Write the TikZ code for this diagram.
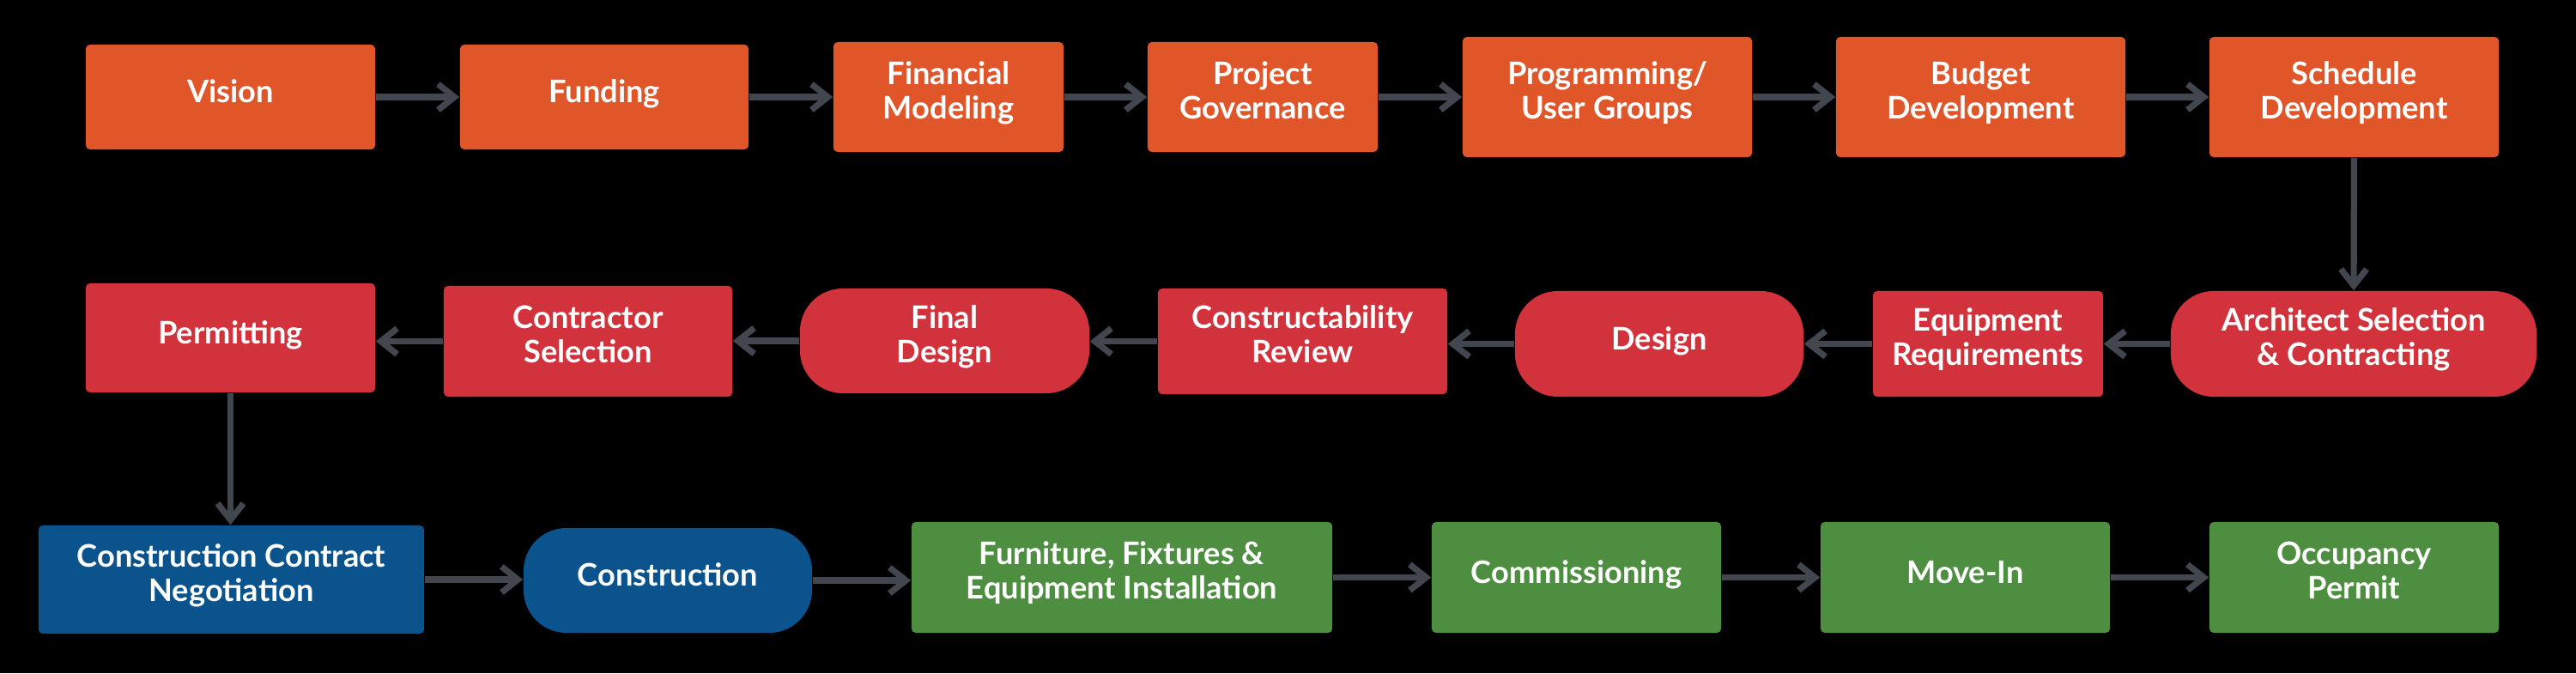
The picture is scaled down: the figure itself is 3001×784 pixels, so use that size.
\documentclass[tikz,border=0pt]{standalone}
\usepackage{fontspec}
\setmainfont{Lato}
\usetikzlibrary{arrows.meta}
\definecolor{cOrange}{HTML}{E05629}
\definecolor{cRed}{HTML}{D2323C}
\definecolor{cBlue}{HTML}{0A538C}
\definecolor{cGreen}{HTML}{4E8E41}
\definecolor{cArrow}{HTML}{42474F}
\tikzset{
  box/.style={rectangle, rounded corners=0.05cm, inner sep=0pt, align=center,
    text=white, font=\fontsize{10.3}{11.4}\selectfont\bfseries,
    execute at begin node={\rule{0pt}{8.5pt}},
    execute at end node={\rule[-4.6pt]{0pt}{4.6pt}}},
  pill/.style={box, rounded corners=0.5cm},
  obox/.style={box, fill=cOrange},
  rbox/.style={box, fill=cRed},
  rpill/.style={pill, fill=cRed},
  bbox/.style={box, fill=cBlue},
  bpill/.style={pill, fill=cBlue},
  gbox/.style={box, fill=cGreen},
  conn/.style={draw=cArrow, line width=0.072cm,
    -{Straight Barb[length=0.19cm, width=0.30cm]}},
}
\begin{document}
\begin{tikzpicture}[x=0.01cm, y=-0.01cm]
\fill[black] (0,0) rectangle (3001,784);
\useasboundingbox (0,0) rectangle (3001,784);
% Row 1
\node[obox, minimum width=3.37cm, minimum height=1.22cm] (vision) at (268.5,113) {Vision};
\node[obox, minimum width=3.36cm, minimum height=1.22cm] (funding) at (704,113) {Funding};
\node[obox, minimum width=2.68cm, minimum height=1.28cm] (finmod) at (1105,113) {Financial\\Modeling};
\node[obox, minimum width=2.68cm, minimum height=1.28cm] (projgov) at (1471,113) {Project\\Governance};
\node[obox, minimum width=3.37cm, minimum height=1.40cm] (prog) at (1872.5,113) {Programming/\\User Groups};
\node[obox, minimum width=3.37cm, minimum height=1.40cm] (budget) at (2307.5,113) {Budget\\Development};
\node[obox, minimum width=3.37cm, minimum height=1.40cm] (schedule) at (2742.5,113) {Schedule\\Development};
% Row 2
\node[rbox, minimum width=3.37cm, minimum height=1.27cm] (permit) at (268.5,393.5) {Permitting};
\node[rbox, minimum width=3.36cm, minimum height=1.29cm] (contractor) at (685,397.5) {Contractor\\Selection};
\node[rpill, minimum width=3.37cm, minimum height=1.22cm] (final) at (1100.5,397) {Final\\Design};
\node[rbox, minimum width=3.37cm, minimum height=1.23cm] (construct) at (1517.5,397.5) {Constructability\\Review};
\node[rpill, minimum width=3.36cm, minimum height=1.23cm] (design) at (1933,400.5) {Design};
\node[rbox, minimum width=2.68cm, minimum height=1.23cm] (equip) at (2316,400.5) {Equipment\\Requirements};
\node[rpill, minimum width=4.26cm, minimum height=1.23cm] (architect) at (2742,400.5) {Architect Selection\\\& Contracting};
% Row 3
\node[bbox, minimum width=4.49cm, minimum height=1.26cm] (ccn) at (269.5,675) {Construction Contract\\Negotiation};
\node[bpill, minimum width=3.36cm, minimum height=1.22cm] (construction) at (778,676) {Construction};
\node[gbox, minimum width=4.90cm, minimum height=1.29cm] (ffe) at (1307,672.5) {Furniture, Fixtures \&\\Equipment Installation};
\node[gbox, minimum width=3.37cm, minimum height=1.29cm] (comm) at (1836.5,672.5) {Commissioning};
\node[gbox, minimum width=3.37cm, minimum height=1.29cm] (movein) at (2289.5,672.5) {Move-In};
\node[gbox, minimum width=3.37cm, minimum height=1.29cm] (occ) at (2742.5,672.5) {Occupancy\\Permit};
% Connectors row 1
\draw[conn] (vision.east) -- (funding.west);
\draw[conn] (funding.east) -- (funding.east -| finmod.west);
\draw[conn] (finmod.east) -- (projgov.west);
\draw[conn] (projgov.east) -- (projgov.east -| prog.west);
\draw[conn] (prog.east) -- (budget.west);
\draw[conn] (budget.east) -- (schedule.west);
\draw[conn] (schedule.south) -- (architect.north);
% Connectors row 2
\draw[conn] (architect.west) -- (equip.east);
\draw[conn] (equip.west) -- (design.east);
\draw[conn] (design.west) -- (design.west -| construct.east);
\draw[conn] (construct.west) -- (construct.west -| final.east);
\draw[conn] (final.west) -- (final.west -| contractor.east);
\draw[conn] (contractor.west) -- (contractor.west -| permit.east);
\draw[conn] (permit.south) -- (permit.south |- ccn.north);
% Connectors row 3
\draw[conn] (ccn.east) -- (ccn.east -| construction.west);
\draw[conn] (construction.east) -- (construction.east -| ffe.west);
\draw[conn] (ffe.east) -- (comm.west);
\draw[conn] (comm.east) -- (movein.west);
\draw[conn] (movein.east) -- (occ.west);
\end{tikzpicture}
\end{document}
